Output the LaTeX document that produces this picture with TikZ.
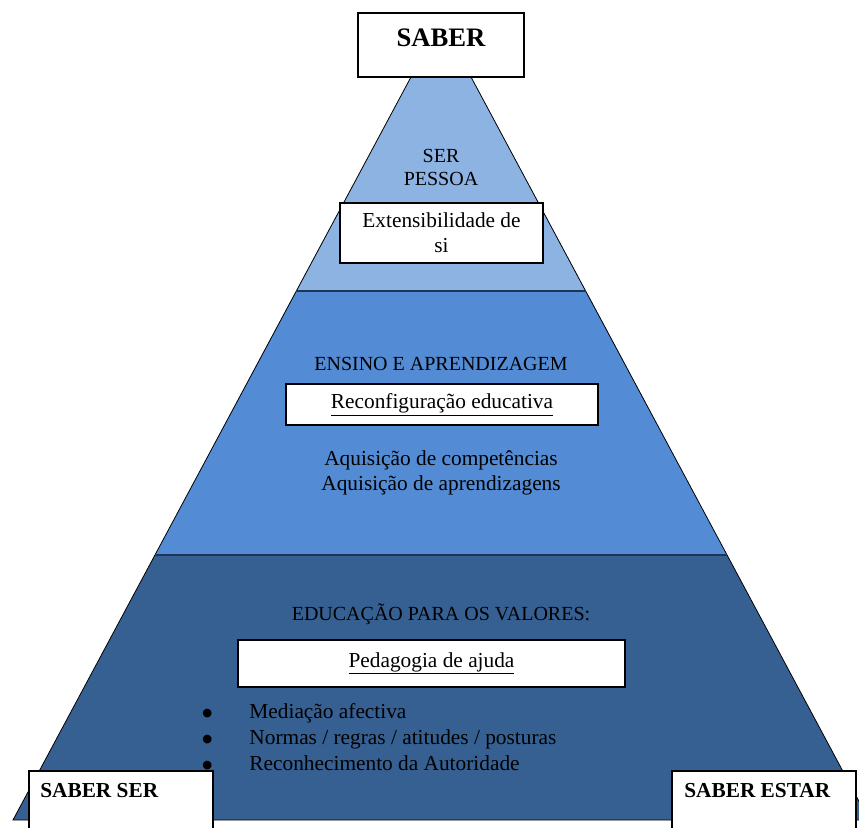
\documentclass[tikz,border=0pt]{standalone}
\usepackage{fontspec}
\setmainfont{Liberation Serif}
\newfontfamily\symfont{DejaVu Sans}
\usepackage{xcolor}
\usetikzlibrary{positioning}
\definecolor{toplayer}{HTML}{8DB3E2}
\definecolor{midlayer}{HTML}{538BD4}
\definecolor{botlayer}{HTML}{366092}
\definecolor{divline}{HTML}{1F3556}
\newcommand{\bigbullet}{\raisebox{1.8pt}{\symfont\fontsize{8.5}{9}\selectfont ●}}

\begin{document}
\begin{tikzpicture}[x=0.75pt, y=-0.75pt]
\tikzset{wbox/.style={draw=black, line width=1.3pt, fill=white, inner sep=0pt},
         txt/.style={font=\fontsize{16}{18.75}\selectfont, align=center, inner sep=0pt},
         capstxt/.style={txt, font=\fontsize{15}{17.25}\selectfont},
         boldtxt/.style={font=\fontsize{16}{19}\selectfont\bfseries, inner sep=0pt}}
    \useasboundingbox (0,0) rectangle (859,827);
    \clip (0,0) rectangle (859,827);

    \coordinate (A) at (441,21);
    \coordinate (L1) at (296,291);
    \coordinate (R1) at (586,291);
    \coordinate (L2) at (155,555);
    \coordinate (R2) at (727,555);
    \coordinate (L3) at (13,820);
    \coordinate (R3) at (869,820);

    \fill[toplayer] (A) -- (L1) -- (R1) -- cycle;
    \fill[midlayer] (L1) -- (L2) -- (R2) -- (R1) -- cycle;
    \fill[botlayer] (L2) -- (L3) -- (R3) -- (R2) -- cycle;
    \draw[line width=0.6pt] (A) -- (L3) -- (R3) -- cycle;
    \draw[divline, line width=1.6pt] (L1) -- (R1);
    \draw[divline, line width=1.6pt] (L2) -- (R2);

% % % % % % % % % % % % % % % % % % %
    \node[wbox, minimum width={166*0.75pt}, font=\fontsize{20}{24}\selectfont\bfseries,
          text height=25pt, text depth=23pt] (saber) at (441,45) {SABER};

    \node[capstxt] (serpessoa) at (441,167) {SER\\PESSOA};
    \node[wbox, txt, minimum width={203*0.75pt}, minimum height={60*0.75pt}] (extens) at (441.5,233) {Extensibilidade de\\si};

% % % % % % % % % % % % % % % % % % %
    \node[capstxt] (ensino) at (441,364) {ENSINO E APRENDIZAGEM};
    \node[wbox, txt, minimum width={312*0.75pt}, minimum height={41*0.75pt}] (reconf) at (442,404.5) {\underline{Reconfiguração educativa}};
    \node[txt] (aquis) at (441,473) {Aquisição de competências\\Aquisição de aprendizagens};

% % % % % % % % % % % % % % % % % % %
    \node[capstxt] (educ) at (441,614) {EDUCAÇÃO PARA OS VALORES:};
    \node[wbox, txt, minimum width={387*0.75pt}, minimum height={47*0.75pt}] (pedag) at (431.5,663.5) {\underline{Pedagogia de ajuda}};
    \node[txt, align=left, anchor=north west] (valores) at (202,700)
        {\fontsize{16}{19.5}\selectfont\begin{tabular}{@{}l@{\hspace{28pt}}l@{}}
         \bigbullet & Mediação afectiva\\
         \bigbullet & Normas / regras / atitudes / posturas\\
         \bigbullet & Reconhecimento da Autoridade
         \end{tabular}};

% % % % % % % % % % % % % % % % % % %
    \node[wbox, anchor=north west, minimum width={184*0.75pt}, minimum height={80*0.75pt}] (saberser) at (28,770) {};
    \node[boldtxt, anchor=west] (saberserlbl) at (40,791) {SABER SER};
    \node[wbox, anchor=north west, minimum width={184*0.75pt}, minimum height={80*0.75pt}] (saberestar) at (671,770) {};
    \node[boldtxt, anchor=west] (saberestarlbl) at (684,791) {SABER ESTAR};
\end{tikzpicture}
\end{document}
